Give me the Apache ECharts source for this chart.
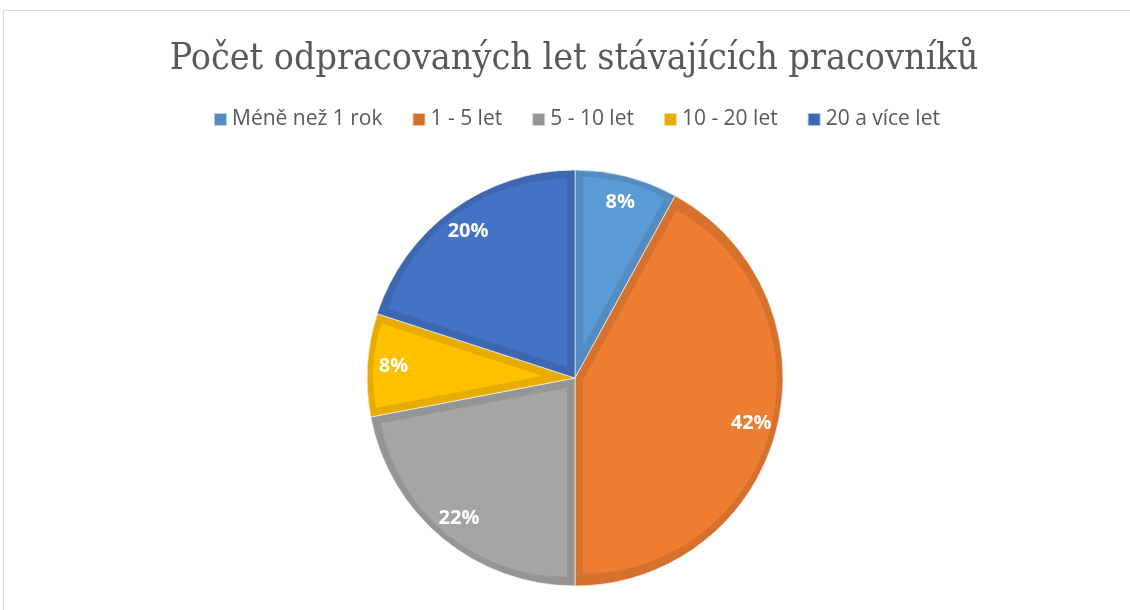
<!DOCTYPE html>
<html>
<head>
<meta charset="utf-8">
<script src="https://cdn.jsdelivr.net/npm/echarts@6/dist/echarts.min.js"></script>
<style>
html,body{margin:0;padding:0;background:#fff;}
#wrap{position:relative;width:1130px;height:610px;overflow:hidden;}
#frame{position:absolute;left:3px;top:10px;width:1200px;height:700px;border:1px solid #d9d9d9;box-sizing:border-box;}
#chart{position:absolute;left:0;top:0;width:1130px;height:610px;}
</style>
</head>
<body>
<div id="wrap"><div id="frame"></div><div id="chart"></div></div>
<script>
const titleText = 'Počet odpracovaných let stávajících pracovníků';
const categories = ['Méně než 1 rok', '1 - 5 let', '5 - 10 let', '10 - 20 let', '20 a více let'];
const values = [8, 42, 22, 8, 20];
const fillColors = ['#5B9BD5', '#ED7D31', '#A5A5A5', '#FFC000', '#4472C4'];
const edgeColors = ['#528CC0', '#D5712C', '#959595', '#E6AD00', '#3D67B0'];

const CX = 575, CY = 378, R = 208, W = 8;
const total = values.reduce((a, b) => a + b, 0);

const series = [];
// outer (edge) pie
series.push({
  type: 'pie', center: [CX, CY], radius: [0, R], startAngle: 90, clockwise: true,
  silent: true, animation: false, label: {show: false}, labelLine: {show: false},
  itemStyle: {borderColor: 'rgba(255,255,255,0.6)', borderWidth: 1},
  data: categories.map((c, i) => ({name: c, value: values[i], itemStyle: {color: edgeColors[i]}}))
});
// inset fill pies, one per slice
categories.forEach((c, k) => {
  const half = Math.PI * values[k] / total;
  const d = W / Math.sin(half);
  const r = R - W - d + 2;
  series.push({
    type: 'pie', center: [CX, CY], radius: [0, r], startAngle: 90, clockwise: true,
    silent: true, animation: false, selectedMode: 'single', selectedOffset: d,
    label: {show: false}, labelLine: {show: false},
    data: categories.map((n, i) => ({
      name: n, value: values[i], selected: i === k,
      itemStyle: {color: i === k ? fillColors[i] : 'rgba(0,0,0,0)'}
    }))
  });
});
// labels
series.push({
  type: 'pie', z: 5, center: [CX, CY], radius: [R * 0.72, R], startAngle: 90, clockwise: true,
  silent: true, animation: false,
  itemStyle: {color: 'rgba(0,0,0,0)'},
  label: {show: true, position: 'inside', formatter: p => Math.round(p.percent) + '%',
    color: '#fff', fontSize: 20, fontWeight: 'bold', fontFamily: '"Open Sans", Lato, sans-serif'},
  labelLine: {show: false},
  data: categories.map((c, i) => ({name: c, value: values[i]}))
});

const chart = echarts.init(document.getElementById('chart'), null, {renderer: 'canvas'});
chart.setOption({
  animation: false,
  title: {
    text: titleText, left: 569, textAlign: 'center', top: 36,
    textStyle: {fontSize: 37.3, fontWeight: 'normal', color: '#595959', fontFamily: '"DejaVu Serif Condensed", "Liberation Serif", serif'}
  },
  legend: {
    top: 104, left: 208, icon: 'rect', itemWidth: 13, itemHeight: 13, itemGap: 29,
    selectedMode: false,
    textStyle: {fontSize: 21, color: '#595959', fontFamily: '"Open Sans", Lato, sans-serif'},
    data: categories.map((c, i) => ({name: c, itemStyle: {color: edgeColors[i]}}))
  },
  series: series
});
</script>
</body>
</html>
